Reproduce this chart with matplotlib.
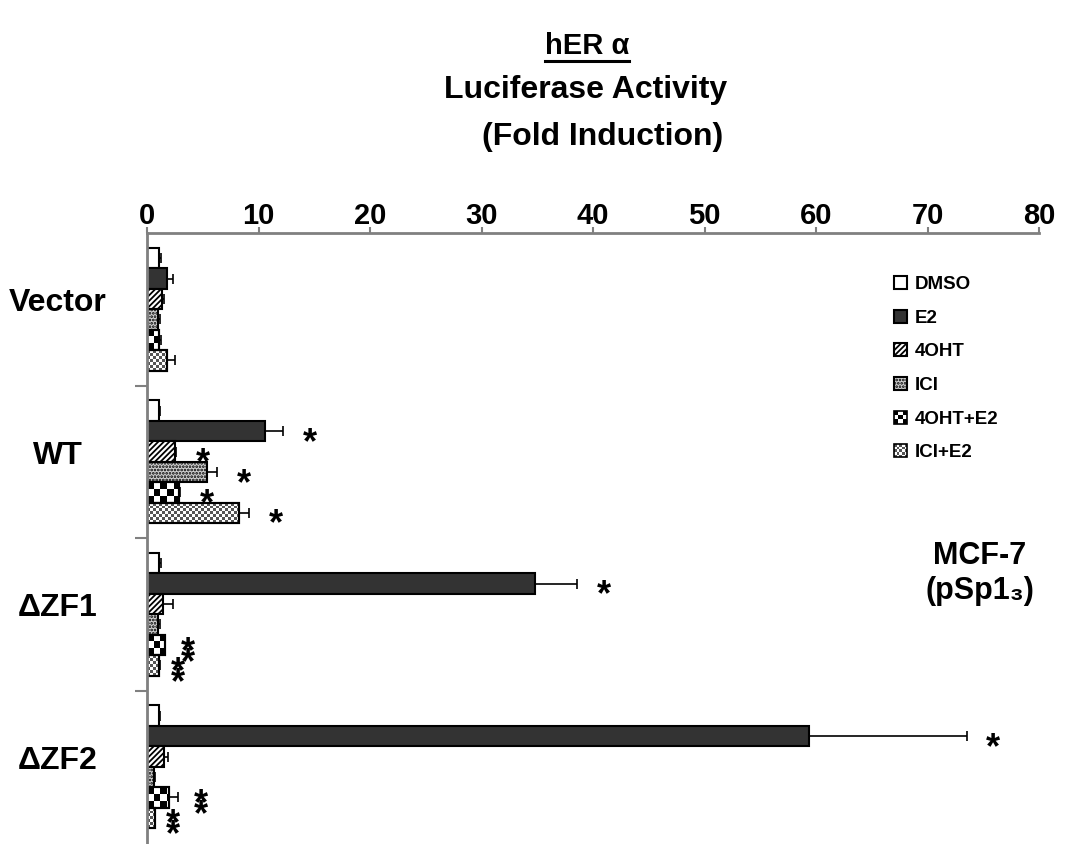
import matplotlib
matplotlib.use('Agg')
import matplotlib.pyplot as plt
import matplotlib.transforms as mtransforms
import numpy as np
from matplotlib.patches import Rectangle
from matplotlib.collections import PatchCollection
from matplotlib.legend_handler import HandlerBase
from matplotlib.lines import Line2D

plt.rcParams['font.family'] = ['Liberation Sans', 'DejaVu Sans']
plt.rcParams['font.weight'] = 'bold'
plt.rcParams['hatch.linewidth'] = 1.3

constructs = ['Vector', 'WT', '\u0394ZF1', '\u0394ZF2']
treatments = ['DMSO', 'E2', '4OHT', 'ICI', '4OHT+E2', 'ICI+E2']

# fold induction, one row per construct, one column per treatment
fold = [
    [1.1, 1.8, 1.35, 1.0, 1.1, 1.8],
    [1.1, 10.6, 2.5, 5.4, 2.9, 8.25],
    [1.1, 34.8, 1.45, 1.0, 1.6, 1.1],
    [1.1, 59.4, 1.5, 0.65, 2.0, 0.7],
]
sem = [
    [0.15, 0.5, 0.2, 0.2, 0.2, 0.7],
    [0.05, 1.6, 0.1, 0.9, 0.1, 0.9],
    [0.2, 3.8, 0.9, 0.2, 0.05, 0.05],
    [0.05, 14.1, 0.35, 0.05, 0.8, 0.05],
]
# asterisks next to each bar
stars = [
    [0, 0, 0, 0, 0, 0],
    [0, 1, 1, 1, 1, 1],
    [0, 1, 0, 0, 2, 2],
    [0, 1, 0, 0, 2, 2],
]

styles = [
    dict(facecolor='white'),
    dict(facecolor='#333333'),
    dict(facecolor='white', hatch='//////'),
    dict(facecolor='#d0d0d0', hatch='.....'),
    dict(facecolor='white'),
    dict(facecolor='white'),
]
# checker patterns: cell width (data), rows per bar, colour, cells in legend box
checkers = {4: (0.6, 3, 'black', 3), 5: (0.27, 7, '#555555', 5)}


def fx(px):
    return px / 1072


def fy(py):
    return 1 - py / 844


def add_checker(ax, bar, cw, nrows, color):
    x0, y0, w, hh = bar.get_x(), bar.get_y(), bar.get_width(), bar.get_height()
    ch = hh / nrows
    ncols = int(np.ceil(w / cw))
    cells = [Rectangle((x0 + c * cw, y0 + r * ch), cw, ch)
             for r in range(nrows) for c in range(ncols) if (r + c) % 2 == 0]
    pc = PatchCollection(cells, facecolor=color, edgecolor='none', zorder=2.1)
    ax.add_collection(pc)
    pc.set_clip_path(bar)


class CheckerHandler(HandlerBase):
    def __init__(self, n, color):
        super().__init__()
        self.n = n
        self.color = color

    def create_artists(self, legend, orig_handle, xdescent, ydescent,
                       width, height, fontsize, trans):
        x0, y0 = -xdescent, -ydescent
        s = height
        cs = s / self.n
        arts = [Rectangle((x0, y0), s, s, facecolor='white', edgecolor='none', transform=trans)]
        for r in range(self.n):
            for c in range(self.n):
                if (r + c) % 2 == 0:
                    arts.append(Rectangle((x0 + c * cs, y0 + r * cs), cs, cs,
                                          facecolor=self.color, edgecolor='none', transform=trans))
        arts.append(Rectangle((x0, y0), s, s, fill=False, edgecolor='black', lw=1.2, transform=trans))
        return arts


fig = plt.figure(figsize=(10.72, 8.44), dpi=100)
ax = fig.add_axes([fx(147), 1 / 844, 892 / 1072, 610 / 844])

h = 0.134
y = np.arange(len(constructs))
handles = []
handler_map = {}
for j, t in enumerate(treatments):
    vals = [row[j] for row in fold]
    errs = [row[j] for row in sem]
    pos = y + (j - 2.5) * h
    bars = ax.barh(pos, vals, height=h, edgecolor='black', linewidth=1.5,
                   label=t, zorder=2, **styles[j])
    if j in checkers:
        cw, nr, col, nl = checkers[j]
        for b in bars:
            add_checker(ax, b, cw, nr, col)
        ax.barh(pos, vals, height=h, fill=False, edgecolor='black', linewidth=1.5, zorder=2.2)
        handler_map[bars] = CheckerHandler(nl, col)
    ax.errorbar(vals, pos, xerr=[np.zeros(len(errs)), errs], fmt='none',
                ecolor='black', elinewidth=1.2, capsize=3.5, capthick=1.2, zorder=3)
    handles.append(bars)

fs = 26
for i in range(len(constructs)):
    for j in range(len(treatments)):
        n = stars[i][j]
        if n == 0:
            continue
        yc = y[i] + (j - 2.5) * h
        xs = fold[i][j] + sem[i][j] + (2.4 if n == 1 else (2.0 if j == 4 else 1.6))
        offs = [5] if n == 1 else [0, 11]
        for o in offs:
            ax.annotate('*', (xs, yc), xytext=(0, -o * 0.72 - 0.58 * fs + 3),
                        textcoords='offset points', ha='center', va='baseline',
                        fontsize=fs, fontweight='bold', annotation_clip=False)

ax.set_xlim(0, 80)
ax.set_ylim(3.5, -0.5)
ax.set_xticks(range(0, 81, 10))
ax.xaxis.tick_top()
ax.tick_params(axis='x', which='major', direction='out', length=4, width=1.5,
               color='#808080', labelsize=21, pad=-2)
ax.set_yticks([])
ax.set_yticks([0.5, 1.5, 2.5], minor=True)
ax.tick_params(axis='y', which='minor', length=9, width=1.5, color='#808080')
for s in ['right', 'bottom']:
    ax.spines[s].set_visible(False)
for s in ['top', 'left']:
    ax.spines[s].set_color('#808080')
    ax.spines[s].set_linewidth(2)

trans = mtransforms.blended_transform_factory(ax.transAxes, ax.transData)
for i, c in enumerate(constructs):
    ax.text(-0.1, y[i] - 0.04, c, transform=trans, ha='center', va='center',
            fontsize=23, fontweight='bold')

ax.legend(handles, treatments, handler_map=handler_map, loc='upper left',
          bbox_to_anchor=(fx(894), fy(276)), bbox_transform=fig.transFigure,
          frameon=False, fontsize=13.5, handlelength=0.7, handleheight=0.7,
          handletextpad=0.4, labelspacing=0.88, borderpad=0, borderaxespad=0)

title = fig.text(fx(587), fy(46), 'hER \u03b1', ha='center', va='center', fontsize=21)
fig.text(fx(586), fy(90), 'Luciferase Activity', ha='center', va='center', fontsize=23)
fig.text(fx(603), fy(137), '(Fold Induction)', ha='center', va='center', fontsize=23)
fig.text(fx(980), fy(556), 'MCF-7', ha='center', va='center', fontsize=22)
fig.text(fx(980), fy(591), '(pSp1\u2083)', ha='center', va='center', fontsize=22)

fig.canvas.draw()
bb = title.get_window_extent()
fig.add_artist(Line2D([bb.x0, bb.x1], [bb.y0 - 1, bb.y0 - 1], color='black', lw=2.2,
                      transform=mtransforms.IdentityTransform()))

fig.savefig('out.png', dpi=100)
